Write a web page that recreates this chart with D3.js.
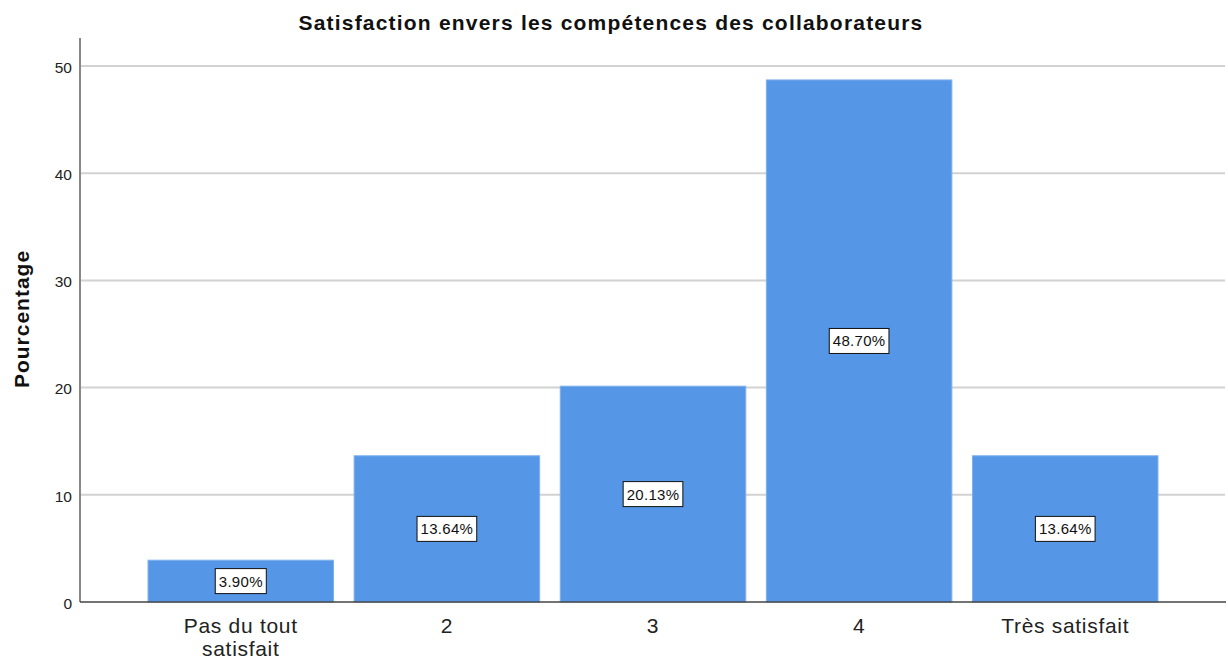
<!DOCTYPE html>
<html><head><meta charset="utf-8">
<script src="https://cdn.jsdelivr.net/npm/d3@7"></script>
<style>body{margin:0;background:#fff;} text{font-family:Arial,"Liberation Sans",sans-serif;}</style>
</head><body>
<svg id="c" width="1228" height="660"></svg>
<script>
const categories = ["Pas du tout\nsatisfait", "2", "3", "4", "Très satisfait"];
const values = [3.90, 13.64, 20.13, 48.70, 13.64];
const valueLabels = ["3.90%", "13.64%", "20.13%", "48.70%", "13.64%"];
const yTicks = [0, 10, 20, 30, 40, 50];

(function () {
const svg = d3.select("#c");
const mLeft = 80, mRight = 1226, mTop = 38, mBottom = 602;
const x = d3.scaleBand().domain(categories).range([mLeft, mRight]).paddingInner(0.1).paddingOuter(0.33);
const y = d3.scaleLinear().domain([0, 50]).range([mBottom, 66]);

// gridlines
svg.append("g").selectAll("line").data(yTicks.filter(d => d > 0)).join("line")
  .attr("x1", mLeft).attr("x2", mRight - 1)
  .attr("y1", d => y(d)).attr("y2", d => y(d))
  .attr("stroke", "#d2d2d2").attr("stroke-width", 2);

// y axis
const ya = svg.append("g").attr("transform", `translate(${mLeft},0)`)
  .call(d3.axisLeft(y).tickValues(yTicks).tickSize(0).tickPadding(8));
ya.select(".domain").remove();
ya.selectAll("text").attr("font-size", 15.5).attr("fill", "#222").attr("dy", "0.4em")
  .style("font-family", "Arial, 'Liberation Sans', sans-serif");
svg.append("line").attr("x1", mLeft).attr("x2", mLeft).attr("y1", mTop).attr("y2", mBottom)
  .attr("stroke", "#888").attr("stroke-width", 2);

// bars
svg.append("g").selectAll("rect").data(values).join("rect")
  .attr("x", (d, i) => x(categories[i]))
  .attr("width", x.bandwidth())
  .attr("y", d => y(d))
  .attr("height", d => y(0) - y(d))
  .attr("fill", "#5596e6")
  .attr("stroke", "#7fb0ee").attr("stroke-width", 1);

// baseline
svg.append("line").attr("x1", mLeft).attr("x2", mRight).attr("y1", mBottom).attr("y2", mBottom)
  .attr("stroke", "#444").attr("stroke-width", 1.5);

// value labels
const lg = svg.append("g").selectAll("g").data(values).join("g")
  .attr("transform", (d, i) => `translate(${x(categories[i]) + x.bandwidth() / 2},${(y(d) + y(0)) / 2})`);
lg.each(function(d, i) {
  const g = d3.select(this);
  const t = g.append("text").text(valueLabels[i]).attr("text-anchor", "middle")
    .attr("dy", "0.36em").attr("font-size", 15).attr("letter-spacing", 0.3).attr("fill", "#111");
  const w = t.node().getComputedTextLength();
  g.insert("rect", "text").attr("x", -w / 2 - 3.5).attr("y", -12.5).attr("width", w + 7).attr("height", 25)
    .attr("fill", "#fff").attr("stroke", "#111").attr("stroke-width", 1);
});

// x labels
const xl = svg.append("g").selectAll("text").data(categories).join("text")
  .attr("x", d => x(d) + x.bandwidth() / 2).attr("y", 633)
  .attr("text-anchor", "middle").attr("font-size", 21).attr("letter-spacing", 0.7).attr("fill", "#222");
xl.each(function(d) {
  const lines = d.split("\n");
  d3.select(this).selectAll("tspan").data(lines).join("tspan")
    .attr("x", x(d) + x.bandwidth() / 2).attr("dy", (l, j) => j === 0 ? 0 : 23).text(l => l);
});

// title
svg.append("text").attr("x", 611).attr("y", 30).attr("text-anchor", "middle")
  .attr("font-size", 21).attr("letter-spacing", 1.2).attr("font-weight", "bold").attr("fill", "#111")
  .text("Satisfaction envers les compétences des collaborateurs");

// y label
svg.append("text").attr("transform", "translate(29,319) rotate(-90)").attr("text-anchor", "middle")
  .attr("font-size", 21).attr("letter-spacing", 1).attr("font-weight", "bold").attr("fill", "#111").text("Pourcentage");
})();
</script>
</body></html>
